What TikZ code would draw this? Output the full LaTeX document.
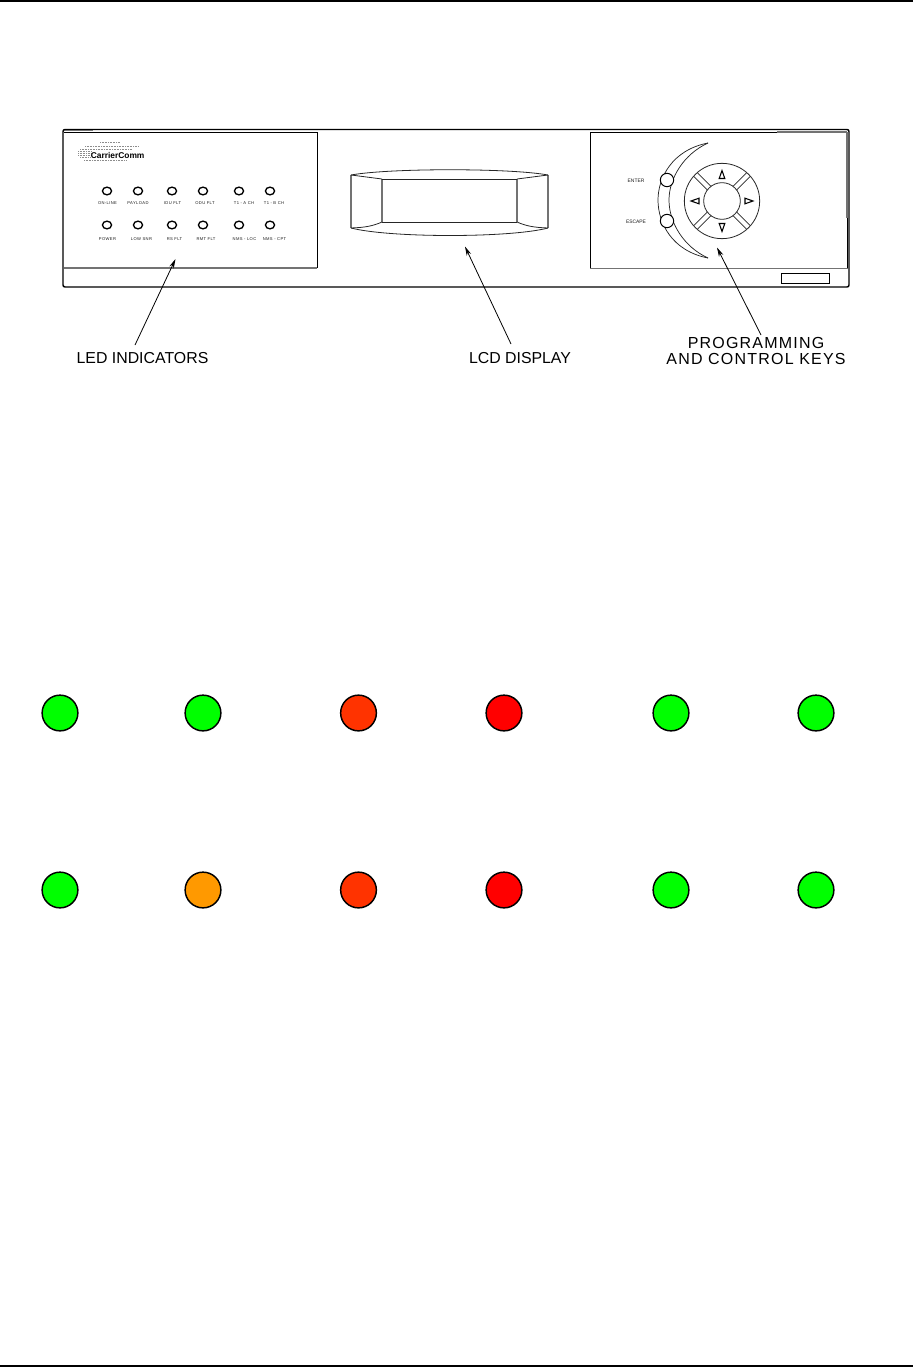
\documentclass[tikz,border=0pt]{standalone}
\usepackage{fontspec}
\setmainfont{Liberation Sans}
\usetikzlibrary{arrows.meta,calc,shapes.geometric}
\tikzset{
  bigled/.style={circle,draw=black,line width=1.1pt,minimum size=26.8pt,inner sep=0pt},
  smallled/.style={ellipse,draw=black,line width=1pt,minimum width=6.8pt,minimum height=5.8pt,inner sep=0pt},
  tiny/.style={font=\fontsize{3.1}{4}\selectfont\addfontfeature{LetterSpace=9},text=black!90,inner sep=0pt},
  callout/.style={font=\fontsize{11.9}{12}\selectfont,inner sep=0pt},
  spaced/.style={font=\fontsize{12}{12}\selectfont\addfontfeature{LetterSpace=7.5},inner sep=0pt},
  pointer/.style={line width=0.6pt,-{Stealth[length=7pt,width=3.6pt]}},
  panelline/.style={line width=0.6pt,black},
  grayline/.style={line width=0.8pt,black!55},
  keyline/.style={line width=0.55pt,black!85},
  lcdline/.style={line width=0.6pt,black!85},
  lcdside/.style={line width=0.8pt,black!55},
  logodots/.style={line width=0.5pt,black!45,dash pattern=on 0.5pt off 0.7pt}
}
\definecolor{ledgreen}{HTML}{00FF00}
\definecolor{ledorange}{HTML}{FF9900}
\definecolor{ledredorange}{HTML}{FF3300}
\definecolor{ledred}{HTML}{FF0000}
\begin{document}
\begin{tikzpicture}[x=0.75pt,y=-0.75pt]
\useasboundingbox (0,0) rectangle (913,1370);
% page rules
\draw[line width=0.9pt] (0,1) -- (913,1);
\draw[line width=0.9pt] (0,1366) -- (913,1366);
% chassis
\draw[line width=1.1pt,rounded corners=1.5pt] (63,129.5) -- (849,129.5) -- (849,287) -- (63,287) -- cycle;
% panels
\draw[panelline] (64,132) -- (317,132) -- (317,268);
\draw[grayline] (64,268) -- (317,268);
\draw[grayline,line width=1.4pt] (65,130.5) -- (93,130.5);
\draw[panelline] (847,218) -- (847,268);
\draw[panelline] (590,268) -- (590,132) -- (777,132);
\draw[grayline] (777,132) -- (847,132);
\draw[grayline,line width=1.6pt] (847,132) -- (847,218);
\draw[grayline] (590,268.5) -- (848,268.5);
\draw[panelline] (781,273) rectangle (829,283);
% logo
\draw[logodots] (100,142.5) -- (120,142.5);
\draw[logodots] (85,146) -- (139,146);
\draw[logodots] (80,149) -- (132,149);
\draw[logodots] (78,151) -- (91,151);
\draw[logodots] (78,153) -- (91,153);
\draw[logodots] (78,155) -- (91,155);
\draw[logodots] (80,157) -- (91,157);
\draw[logodots] (84,160) -- (126,160);
\node[font=\fontsize{6.3}{7}\bfseries\selectfont,inner sep=0pt,anchor=west] (logo) at (90.5,155) {CarrierComm};
% small LEDs
\foreach \n/\x in {a/107,b/138,c/172,d/203,e/239,f/270}{
  \node[smallled] (s\n1) at (\x,191) {};
  \node[smallled] (s\n2) at (\x,225) {};
}
\foreach \n/\x/\t in {a/107.5/ON-LINE,b/138/PAYLOAD,c/172.5/IDU FLT,d/205/ODU FLT,e/244/T1 - A CH,f/274/T1 - B CH}{
  \node[tiny] (t\n1) at (\x,203.3) {\t};
}
\foreach \n/\x/\t in {a/107.5/POWER,b/141.5/LOW SNR,c/174.5/RS FLT,d/206/RMT FLT,e/244.5/NMS - LOC,f/274.5/NMS - CPT}{
  \node[tiny] (t\n2) at (\x,239.3) {\t};
}
% LCD
\draw[lcdside] (351,175) -- (351,228);
\draw[lcdside] (548,175) -- (548,228);
\draw[lcdside] (382,179) -- (382,222);
\draw[lcdside] (517,179) -- (517,222);
\draw[lcdline] (382,179) -- (517,179);
\draw[lcdline] (382,222) -- (517,222);
\draw[lcdline] (351,175) .. controls (390,168) and (510,168) .. (548,175);
\draw[lcdline] (351,228) .. controls (390,238) and (510,238) .. (548,228);
\draw[lcdline] (351,175) -- (382,179);
\draw[lcdline] (548,175) -- (517,179);
\draw[lcdline] (351,228) .. controls (365,227.5) and (373,226) .. (382,222);
\draw[lcdline] (548,228) .. controls (534,227.5) and (526,226) .. (517,222);
% crescent
\coordinate (tiptop) at (708,143);
\coordinate (tipbot) at (708,258);
\draw[keyline] (tiptop) .. controls (672,150) and (658,178) .. (658,200) .. controls (658,223) and (672,251) .. (tipbot);
\draw[keyline] (tiptop) .. controls (684,154) and (669,178) .. (669,200) .. controls (669,223) and (684,247) .. (tipbot);
\node[circle,draw=black,fill=white,line width=0.75pt,minimum size=10pt,inner sep=0pt] (enter) at (667,180) {};
\node[circle,draw=black,fill=white,line width=0.75pt,minimum size=10pt,inner sep=0pt] (escape) at (667,221) {};
\node[tiny,font=\fontsize{3.7}{4}\selectfont] (lenter) at (636,181) {ENTER};
\node[tiny,font=\fontsize{3.7}{4}\selectfont] (lescape) at (636,222) {ESCAPE};
% keypad
\node[circle,draw=black!85,line width=0.6pt,minimum size=56.5pt,inner sep=0pt] (pad) at (722,201) {};
\node[circle,draw=black!85,line width=0.6pt,minimum size=27.5pt,inner sep=0pt] (hub) at (722,201) {};
\foreach \ang in {45,135,225,315}{
  \draw[keyline] ($(hub.center)+(\ang-8:13.72pt)$) -- ($(pad.center)+(\ang-3.8:28.25pt)$);
  \draw[keyline] ($(hub.center)+(\ang+8:13.72pt)$) -- ($(pad.center)+(\ang+3.8:28.25pt)$);
}
\draw[line width=0.8pt] (722,170.5) -- (719.2,178.5) -- (724.8,178.5) -- cycle;
\draw[line width=0.8pt] (722,231.5) -- (719.2,223.5) -- (724.8,223.5) -- cycle;
\draw[line width=0.8pt] (691,201) -- (699,198.2) -- (699,203.8) -- cycle;
\draw[line width=0.8pt] (753,201) -- (745,198.2) -- (745,203.8) -- cycle;
% callouts
\node[callout] (led) at (142.5,358.5) {LED INDICATORS};
\node[callout] (lcdl) at (520,358.5) {LCD DISPLAY};
\node[spaced] (keys1) at (756,342.5) {PROGRAMMING};
\node[spaced] (keys2) at (756,358.5) {AND CONTROL KEYS};
\coordinate (ledtail) at (135,345);
\coordinate (ledtip) at (175.5,259);
\coordinate (lcdtail) at (511,344);
\coordinate (lcdtip) at (465,246.5);
\coordinate (keytail) at (761,335);
\coordinate (keytip) at (717,247.5);
\draw[pointer] (ledtail) -- (ledtip);
\draw[pointer] (lcdtail) -- (lcdtip);
\draw[pointer] (keytail) -- (keytip);
% big LEDs
\foreach \n/\x/\c/\d in {a/60/ledgreen/ledgreen,b/203/ledgreen/ledorange,c/358.5/ledredorange/ledredorange,d/504/ledred/ledred,e/671/ledgreen/ledgreen,f/816/ledgreen/ledgreen}{
  \node[bigled,fill=\c] (g\n1) at (\x,713) {};
  \node[bigled,fill=\d] (g\n2) at (\x,890) {};
}
\end{tikzpicture}
\end{document}
